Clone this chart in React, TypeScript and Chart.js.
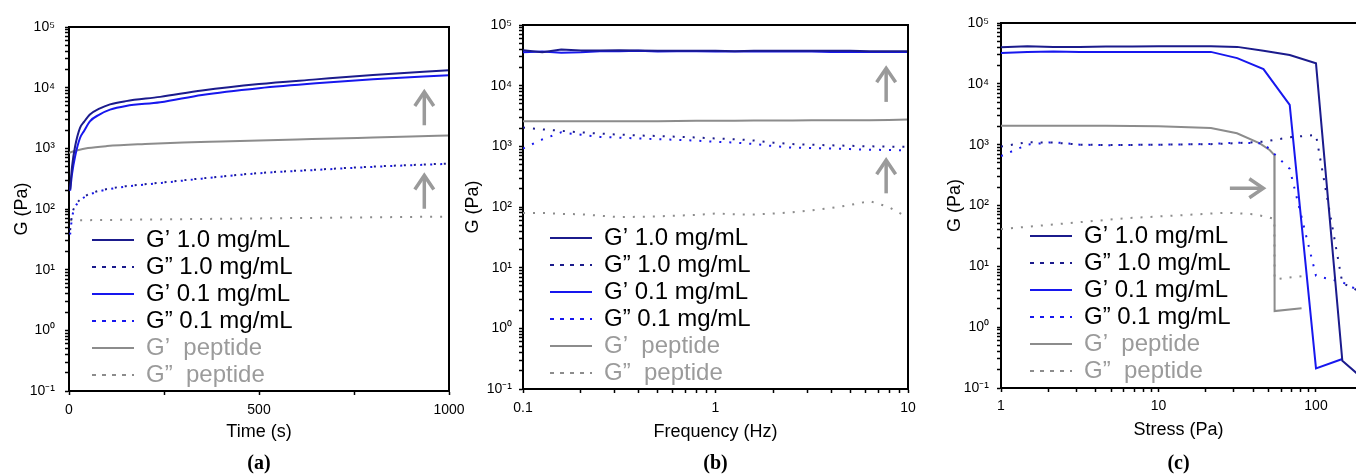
import React, { useEffect, useRef } from 'react';
import { Chart, registerables } from 'chart.js';

Chart.register(...registerables);

// ---------- colours & fonts ----------
const NAVY = '#1b1b8c';
const BLUE = '#1717ee';
const GRAY = '#8c8c8c';
const GRAY_TEXT = '#9b9b9b';
const ARROW_COLOR = '#9a9a9a';
const FONT = "'Liberation Sans', Arial, Helvetica, sans-serif";
const SERIF = "'Liberation Serif', 'Times New Roman', serif";

// ---------- legend / series ----------
const LEGEND_LABELS = ['G’ 1.0 mg/mL', 'G” 1.0 mg/mL', 'G’ 0.1 mg/mL', 'G” 0.1 mg/mL', 'G’  peptide', 'G”  peptide'];
const LEGEND_TEXT_COLORS = ['#000', '#000', '#000', '#000', GRAY_TEXT, GRAY_TEXT];
const SERIES_COLORS = [NAVY, NAVY, BLUE, BLUE, GRAY, GRAY];
const SERIES_DOTTED = [false, true, false, true, false, true];
const DATA_DASH = [2, 8];
const LEGEND_DASH = [2, 8];

// ---------- panel (a): time sweep ----------
const TIME_S = [3, 8, 16, 29, 40, 55, 80, 108, 150, 240, 350, 500, 650, 800, 1000];
const A_GP_10 = [210, 500, 1070, 2170, 2750, 3600, 4500, 5300, 6000, 7050, 9000, 11500, 13700, 16200, 19400];
const A_GPP_10 = [45, 80, 112, 142, 160, 178, 200, 218, 238, 272, 320, 392, 445, 500, 562];
const A_GP_01 = [200, 380, 735, 1480, 1950, 2790, 3600, 4350, 5000, 5750, 7600, 9800, 11800, 13700, 16000];
const A_GPP_01 = [38, 72, 106, 138, 156, 174, 196, 214, 234, 268, 316, 388, 440, 495, 556];
const TIME_PEP = [0, 20, 50, 100, 200, 300, 400, 500, 600, 700, 800, 900, 1000];
const A_GP_PEP = [845, 920, 1010, 1090, 1180, 1250, 1300, 1350, 1400, 1450, 1510, 1570, 1630];
const TIME_PEP_GPP = [3, 100, 300, 500, 700, 1000];
const A_GPP_PEP = [65, 66, 68, 70, 72, 75];
const A_X_TICKS = [0, 250, 500, 750, 1000];
const A_X_MAJOR = [0, 500, 1000];
const A_X_LABELS = ['0', '500', '1000'];
const A_ARROWS = [
  { x0: 935, y0: 2400, x1: 935, y1: 8500 },
  { x0: 935, y0: 101, x1: 935, y1: 358 },
];

// ---------- panel (b): frequency sweep ----------
const FREQ_HZ = [0.1, 0.126, 0.158, 0.2, 0.251, 0.316, 0.398, 0.501, 0.631, 0.794, 1, 1.26, 1.58, 2, 2.51, 3.16, 3.98, 5.01, 6.31, 7.94, 10];
const B_GP_10 = [38500, 35500, 39500, 38000, 38000, 38500, 38000, 37500, 37500, 37500, 37500, 37000, 37500, 37500, 37500, 37500, 37500, 37500, 37000, 37000, 37000];
const B_GPP_10 = [2040, 1900, 1800, 1700, 1620, 1560, 1510, 1480, 1440, 1400, 1350, 1310, 1250, 1150, 1090, 1060, 1040, 1020, 1000, 990, 980];
const B_GP_01 = [35500, 36500, 35000, 35500, 37000, 37000, 37500, 36500, 37000, 37000, 36500, 36500, 36500, 36500, 36500, 36500, 36000, 36000, 36000, 36000, 36000];
const B_GPP_01 = [920, 1300, 1700, 1550, 1430, 1390, 1350, 1310, 1280, 1240, 1190, 1155, 1090, 1010, 950, 935, 920, 900, 880, 870, 860];
const B_GP_PEP = [2580, 2580, 2580, 2580, 2580, 2590, 2600, 2600, 2620, 2630, 2650, 2650, 2660, 2660, 2670, 2680, 2690, 2700, 2680, 2720, 2780];
const B_GPP_PEP = [80, 80, 77, 76, 72, 68, 69, 70, 72, 74, 78, 76, 75, 78, 82, 88, 96, 108, 125, 100, 67];
const B_X_MAJOR = [0.1, 1, 10];
const B_X_LABELS = ['0.1', '1', '10'];
const B_ARROWS = [
  { x0: 7.7, y0: 5400, x1: 7.7, y1: 19300 },
  { x0: 7.7, y0: 168, x1: 7.7, y1: 590 },
];

// ---------- panel (c): stress sweep ----------
const STRESS_PA = [1, 1.47, 2.15, 3.16, 4.64, 6.81, 10, 14.7, 21.5, 31.6, 46.4, 68.1, 100, 147, 215];
const C_GP_10 = [40000, 41500, 40500, 40500, 41000, 41000, 41500, 41500, 41500, 40500, 35000, 29800, 21700, 0.28, 0.12];
const C_GPP_10 = [930, 1100, 1080, 1000, 990, 990, 1000, 1010, 1020, 1060, 1120, 1320, 1450, 5.3, 3.3];
const C_GP_01 = [32000, 33500, 34000, 33500, 33500, 33500, 33500, 33500, 33500, 26500, 17500, 4500, 0.21, 0.3, null];
const C_GPP_01 = [650, 1000, 1100, 1000, 980, 990, 1000, 1010, 1030, 1080, 1050, 400, 7, 5.5, 3.3];
const STRESS_PEP_GP = [1, 2.15, 4.64, 10, 21.5, 31.5, 44, 51, 54.4, 54.6, 81];
const C_GP_PEP = [2050, 2050, 2050, 2000, 1880, 1540, 1050, 810, 674, 1.84, 2.05];
const STRESS_PEP_GPP = [1, 2, 4, 6.3, 10, 15, 27, 40, 50, 54.4, 54.6, 81];
const C_GPP_PEP = [41, 48, 56, 62, 66, 70, 76, 72, 64, 60, 6.1, 6.9];
const C_X_MAJOR = [1, 10, 100];
const C_X_LABELS = ['1', '10', '100'];
const C_ARROWS = [{ x0: 28.4, y0: 192, x1: 46.3, y1: 192 }];

// ---------- y axis ----------
const Y_MAJOR = [0.1, 1, 10, 100, 1000, 10000, 100000];
const Y_LABELS = ['10⁻¹', '10⁰', '10¹', '10²', '10³', '10⁴', '10⁵'];

function logMinorTicks(minExp: number, maxExp: number, stop: number): number[] {
  const out: number[] = [];
  for (let e = minExp; e <= maxExp; e++) {
    for (let m = 1; m <= 9; m++) {
      const v = Number((m * Math.pow(10, e)).toPrecision(6));
      if (v <= stop * 1.0000001) out.push(v);
    }
  }
  return out;
}

function labelFor(value: number, majors: number[], labels: string[]): string {
  for (let i = 0; i < majors.length; i++) {
    const m = majors[i];
    if (Math.abs(value - m) <= 1e-7 * Math.max(1, Math.abs(m))) return labels[i];
  }
  return '';
}

const CANVAS_W = 1356;
const CANVAS_H = 476;
const Y_AXIS_W = 69;
const CAPTION_SIZE = 20;
const CAPTION_TOP = CANVAS_H - CAPTION_SIZE * 1.2;
const LEGEND_FONT = 24;
const LEGEND_PAD = 3;

const PANELS = [
  {
    id: 'a', caption: '(a)', xTitle: 'Time (s)', xType: 'linear', xMin: 0, xMax: 1000,
    xTicks: A_X_TICKS, xMajor: A_X_MAJOR, xLabels: A_X_LABELS,
    series: [
      { x: TIME_S, y: A_GP_10 }, { x: TIME_S, y: A_GPP_10 },
      { x: TIME_S, y: A_GP_01 }, { x: TIME_S, y: A_GPP_01 },
      { x: TIME_PEP, y: A_GP_PEP }, { x: TIME_PEP_GPP, y: A_GPP_PEP },
    ],
    arrows: A_ARROWS,
    area: { left: 69, right: 449, top: 27, bottom: 391 },
    yTickPad: 10, yTitlePad: 11, xTickPad: 7, xTitlePad: 9,
    legend: { x: 92, y: 240 }, frameRight: true, smooth: true,
  },
  {
    id: 'b', caption: '(b)', xTitle: 'Frequency (Hz)', xType: 'logarithmic', xMin: 0.1, xMax: 10,
    xTicks: logMinorTicks(-1, 1, 10), xMajor: B_X_MAJOR, xLabels: B_X_LABELS,
    series: [
      { x: FREQ_HZ, y: B_GP_10 }, { x: FREQ_HZ, y: B_GPP_10 },
      { x: FREQ_HZ, y: B_GP_01 }, { x: FREQ_HZ, y: B_GPP_01 },
      { x: FREQ_HZ, y: B_GP_PEP }, { x: FREQ_HZ, y: B_GPP_PEP },
    ],
    arrows: B_ARROWS,
    area: { left: 523, right: 908, top: 25, bottom: 389 },
    yTickPad: 7, yTitlePad: 8, xTickPad: 7, xTitlePad: 9,
    legend: { x: 550, y: 238 }, frameRight: true, smooth: false,
  },
  {
    id: 'c', caption: '(c)', xTitle: 'Stress (Pa)', xType: 'logarithmic', xMin: 1, xMax: 179.5,
    xTicks: logMinorTicks(0, 2, 179.5), xMajor: C_X_MAJOR, xLabels: C_X_LABELS,
    series: [
      { x: STRESS_PA, y: C_GP_10 }, { x: STRESS_PA, y: C_GPP_10 },
      { x: STRESS_PA, y: C_GP_01 }, { x: STRESS_PA, y: C_GPP_01 },
      { x: STRESS_PEP_GP, y: C_GP_PEP }, { x: STRESS_PEP_GPP, y: C_GPP_PEP },
    ],
    arrows: C_ARROWS,
    area: { left: 1001, right: 1356, top: 23, bottom: 388 },
    yTickPad: 8, yTitlePad: 12, xTickPad: 6, xTitlePad: 11,
    legend: { x: 1030, y: 236 }, frameRight: false, smooth: false,
  },
];

// ---------- plugins ----------
const framePlugin = {
  id: 'frame',
  afterDraw(chart: any, _a: any, opts: any) {
    const { ctx, chartArea: ca } = chart;
    ctx.save();
    ctx.strokeStyle = '#000';
    ctx.lineWidth = 2;
    ctx.beginPath();
    ctx.moveTo(ca.left - 1, ca.top);
    ctx.lineTo(ca.right + (opts.right ? 1 : 0), ca.top);
    if (opts.right) {
      ctx.moveTo(ca.right, ca.top);
      ctx.lineTo(ca.right, ca.bottom + 1);
    }
    ctx.stroke();
    ctx.restore();
  },
};

const arrowPlugin = {
  id: 'arrows',
  afterDatasetsDraw(chart: any, _a: any, opts: any) {
    const list = (opts && opts.list) || [];
    const { ctx } = chart;
    const xs = chart.scales.x;
    const ys = chart.scales.y;
    ctx.save();
    ctx.strokeStyle = ARROW_COLOR;
    ctx.lineWidth = 3.5;
    ctx.lineJoin = 'miter';
    ctx.lineCap = 'butt';
    const L = 14;
    const W = 9.5;
    for (const a of list) {
      const x0 = xs.getPixelForValue(a.x0);
      const y0 = ys.getPixelForValue(a.y0);
      const x1 = xs.getPixelForValue(a.x1);
      const y1 = ys.getPixelForValue(a.y1);
      const dx = x1 - x0;
      const dy = y1 - y0;
      const len = Math.hypot(dx, dy) || 1;
      const ux = dx / len;
      const uy = dy / len;
      ctx.beginPath();
      ctx.moveTo(x0, y0);
      ctx.lineTo(x1 - ux * 2, y1 - uy * 2);
      ctx.stroke();
      ctx.beginPath();
      ctx.moveTo(x1 - ux * L - uy * W, y1 - uy * L + ux * W);
      ctx.lineTo(x1, y1);
      ctx.lineTo(x1 - ux * L + uy * W, y1 - uy * L - ux * W);
      ctx.stroke();
    }
    ctx.restore();
  },
};

// places the built-in legend inside the plot area; opts.y is the centre of the first row
const legendPlacer = {
  id: 'legendPlacer',
  beforeDraw(chart: any, _a: any, opts: any) {
    const lg = chart.legend;
    if (!lg || !opts) return;
    const pad = opts.padding;
    lg.left = opts.x - pad;
    lg.top = opts.y - opts.fontSize / 2 - pad;
    lg.right = chart.chartArea.right;
    lg.bottom = chart.chartArea.bottom + 200;
  },
};

function buildConfig(p: any): any {
  const datasets = p.series.map((s: any, i: number) => ({
    label: LEGEND_LABELS[i],
    data: s.x.map((x: number, j: number) => ({ x, y: s.y[j] })),
    borderColor: SERIES_COLORS[i],
    backgroundColor: SERIES_COLORS[i],
    borderWidth: 2,
    borderDash: SERIES_DOTTED[i] ? DATA_DASH : [],
    pointRadius: 0,
    pointHoverRadius: 0,
    fill: false,
    tension: 0,
    cubicInterpolationMode: p.smooth ? 'monotone' : 'default',
    spanGaps: false,
  }));

  return {
    type: 'line',
    data: { datasets },
    plugins: [framePlugin, arrowPlugin, legendPlacer],
    options: {
      responsive: false,
      maintainAspectRatio: false,
      animation: false,
      devicePixelRatio: 1,
      events: [],
      layout: {
        padding: {
          left: p.area.left - Y_AXIS_W,
          right: CANVAS_W - p.area.right,
          top: p.area.top,
          bottom: 0,
        },
      },
      scales: {
        x: {
          type: p.xType,
          position: 'bottom',
          min: p.xMin,
          max: p.xMax,
          afterBuildTicks: (s: any) => {
            s.ticks = p.xTicks.map((v: number) => ({ value: v }));
          },
          afterFit: (s: any) => {
            s.height = CAPTION_TOP - p.area.bottom;
          },
          ticks: {
            autoSkip: false,
            maxRotation: 0,
            minRotation: 0,
            padding: p.xTickPad,
            color: '#000',
            font: { family: FONT, size: 14 },
            callback: (v: any) => labelFor(Number(v), p.xMajor, p.xLabels),
          },
          grid: {
            display: true,
            drawOnChartArea: false,
            drawTicks: true,
            tickLength: 4,
            tickWidth: 1.5,
            tickColor: '#000',
          },
          border: { display: true, color: '#000', width: 2 },
          title: {
            display: true,
            text: p.xTitle,
            color: '#000',
            font: { family: FONT, size: 18 },
            padding: { top: 0, bottom: p.xTitlePad },
          },
        },
        y: {
          type: 'logarithmic',
          position: 'left',
          min: 0.1,
          max: 100000,
          afterBuildTicks: (s: any) => {
            s.ticks = logMinorTicks(-1, 5, 100000).map((v) => ({ value: v }));
          },
          afterFit: (s: any) => {
            s.width = Y_AXIS_W;
          },
          ticks: {
            autoSkip: false,
            padding: p.yTickPad,
            color: '#000',
            font: { family: FONT, size: 14 },
            callback: (v: any) => labelFor(Number(v), Y_MAJOR, Y_LABELS),
          },
          grid: {
            display: true,
            drawOnChartArea: false,
            drawTicks: true,
            tickLength: 4,
            tickWidth: 1.5,
            tickColor: '#000',
          },
          border: { display: true, color: '#000', width: 2 },
          title: {
            display: true,
            text: 'G (Pa)',
            color: '#000',
            font: { family: FONT, size: 18 },
            padding: { top: p.yTitlePad, bottom: 0 },
          },
        },
      },
      plugins: {
        tooltip: { enabled: false },
        title: {
          display: true,
          text: p.caption,
          position: 'bottom',
          fullSize: false,
          align: 'center',
          color: '#000',
          font: { family: SERIF, size: CAPTION_SIZE, weight: 'bold', lineHeight: 1.2 },
          padding: { top: 0, bottom: 0 },
        },
        legend: {
          display: true,
          position: 'chartArea',
          align: 'start',
          labels: {
            boxWidth: 42,
            boxHeight: 0,
            padding: LEGEND_PAD,
            color: '#000',
            font: { family: FONT, size: LEGEND_FONT },
            generateLabels: (chart: any) => {
              const base = (Chart as any).defaults.plugins.legend.labels.generateLabels(chart);
              return base.map((it: any, i: number) => ({
                ...it,
                text: LEGEND_LABELS[i],
                fontColor: LEGEND_TEXT_COLORS[i],
                strokeStyle: SERIES_COLORS[i],
                fillStyle: 'rgba(0,0,0,0)',
                lineWidth: 2,
                lineDash: SERIES_DOTTED[i] ? LEGEND_DASH : [],
                lineCap: 'butt',
              }));
            },
          },
        },
        frame: { right: p.frameRight },
        arrows: { list: p.arrows },
        legendPlacer: { x: p.legend.x, y: p.legend.y, padding: LEGEND_PAD, fontSize: LEGEND_FONT },
      },
    },
  };
}

function Panel({ cfg }: { cfg: any }) {
  const ref = useRef<HTMLCanvasElement | null>(null);
  useEffect(() => {
    if (!ref.current) return;
    const chart = new Chart(ref.current, buildConfig(cfg));
    return () => chart.destroy();
  }, [cfg]);
  return (
    <canvas
      ref={ref}
      width={CANVAS_W}
      height={CANVAS_H}
      style={{ position: 'absolute', left: 0, top: 0, width: CANVAS_W, height: CANVAS_H }}
    />
  );
}

export default function App() {
  return (
    <div
      style={{
        position: 'absolute',
        left: 0,
        top: 0,
        width: CANVAS_W,
        height: CANVAS_H,
        overflow: 'hidden',
        background: '#fff',
      }}
    >
      {PANELS.map((p) => (
        <Panel key={p.id} cfg={p} />
      ))}
    </div>
  );
}
